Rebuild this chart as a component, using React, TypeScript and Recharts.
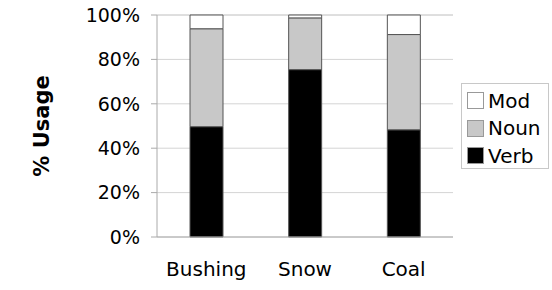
import { BarChart, Bar, XAxis, YAxis, CartesianGrid } from 'recharts';

const categories = ['Bushing', 'Snow', 'Coal'];
const verb = [49.7, 75.4, 48.3];
const noun = [44.1, 23.3, 42.9];
const mod = [6.2, 1.3, 8.8];
const yTicks = [0, 20, 40, 60, 80, 100];

const data = categories.map((name, i) => ({ name, Verb: verb[i], Noun: noun[i], Mod: mod[i] }));

const FONT = '"DejaVu Sans", Verdana, sans-serif';

const legendItems = [
  { name: 'Mod', color: '#ffffff' },
  { name: 'Noun', color: '#c8c8c8' },
  { name: 'Verb', color: '#000000' },
];

function LegendBox() {
  return (
    <div
      style={{
        position: 'absolute',
        left: 461,
        top: 83,
        width: 88,
        height: 86,
        border: '1px solid #c8c8c8',
        background: '#fff',
        fontFamily: FONT,
        fontSize: 20,
        padding: '3px 0 0 5px',
        boxSizing: 'border-box',
      }}
    >
      {legendItems.map((item) => (
        <div key={item.name} style={{ display: 'flex', alignItems: 'center', height: 27.5 }}>
          <div
            style={{
              width: 15,
              height: 15,
              background: item.color,
              border: '1px solid #999',
              marginRight: 4,
            }}
          />
          <span>{item.name}</span>
        </div>
      ))}
    </div>
  );
}

export default function App() {
  return (
    <div style={{ position: 'fixed', left: 0, top: 0, width: 552, height: 290, background: '#fff' }}>
      <BarChart
        width={552}
        height={290}
        data={data}
        margin={{ top: 15, right: 99, bottom: 0, left: 0 }}
        barSize={33}
      >
        <CartesianGrid xAxisId="z" vertical={false} stroke="#d4d4d4" />
        {/* boundary ticks between the categories */}
        <XAxis
          xAxisId="a"
          type="number"
          domain={[0, 3]}
          ticks={[0, 1, 2, 3]}
          tick={false}
          height={6}
          tickSize={5}
          stroke="#aaaaaa"
        />
        <XAxis
          xAxisId="z"
          dataKey="name"
          axisLine={false}
          tickLine={false}
          height={47}
          tickSize={6}
          tickMargin={13}
          tick={{ fill: '#000', fontSize: 20, fontFamily: FONT }}
        />
        <YAxis
          domain={[0, 100]}
          ticks={yTicks}
          tickFormatter={(v: number) => `${v}%`}
          width={157}
          tickSize={6}
          tickMargin={11}
          stroke="#aaaaaa"
          tick={{ fill: '#000', fontSize: 19, fontFamily: FONT }}
          label={{
            value: '% Usage',
            angle: -90,
            position: 'insideLeft',
            offset: 42,
            style: { fontSize: 21, fontWeight: 'bold', fontFamily: FONT, fill: '#000', textAnchor: 'middle' },
          }}
        />
        <Bar dataKey="Verb" xAxisId="z" stackId="a" fill="#000000" stroke="#555555" isAnimationActive={false} />
        <Bar dataKey="Noun" xAxisId="z" stackId="a" fill="#c8c8c8" stroke="#555555" isAnimationActive={false} />
        <Bar dataKey="Mod" xAxisId="z" stackId="a" fill="#ffffff" stroke="#555555" isAnimationActive={false} />
      </BarChart>
      <LegendBox />
    </div>
  );
}
